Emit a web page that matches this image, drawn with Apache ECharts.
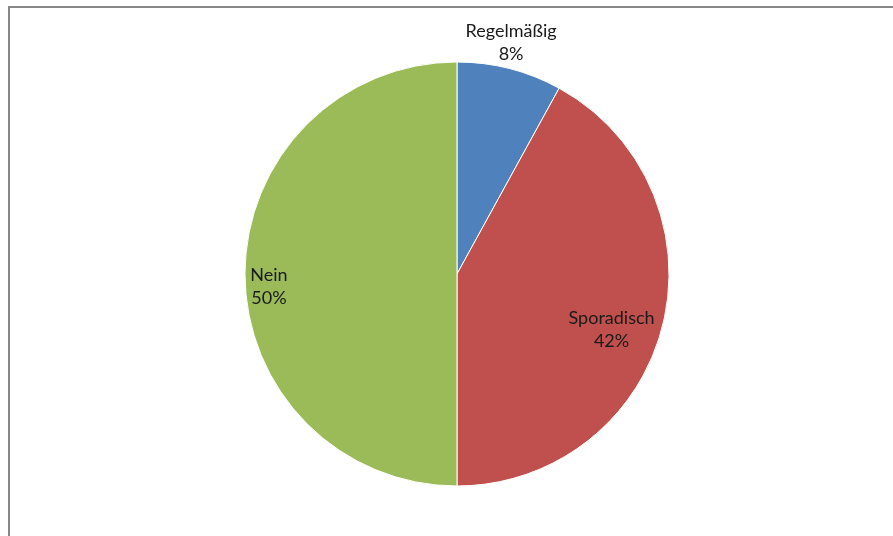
<!DOCTYPE html>
<html>
<head>
<meta charset="utf-8">
<script src="https://cdn.jsdelivr.net/npm/echarts@6/dist/echarts.min.js"></script>
<style>
  html, body { margin: 0; padding: 0; background: #fff; }
  #frame { position: absolute; left: 8px; top: 6px; width: 900px; height: 540px;
           border-left: 2px solid #878787; border-top: 2px solid #878787; box-sizing: border-box; }
  #chart { position: absolute; left: 0; top: 0; width: 893px; height: 536px; }
</style>
</head>
<body>
<div id="frame"></div>
<div id="chart"></div>
<script>
// Answer categories and their shares in percent
const categories = ['Regelmäßig', 'Sporadisch', 'Nein'];
const shares = [8, 42, 50];
const colors = ['#4F81BD', '#C0504D', '#9BBB59'];
// Label nudges from the default inside spot, per slice
const labelShift = [[27, -126], [49, 29], [-79, 13]];

const chart = echarts.init(document.getElementById('chart'), null, { renderer: 'canvas' });
chart.setOption({
  animation: false,
  series: [{
    type: 'pie',
    center: [457, 274],
    radius: [0, 212],
    startAngle: 90,
    clockwise: true,
    data: categories.map((name, i) => ({
      name, value: shares[i],
      itemStyle: { color: colors[i] }
    })),
    itemStyle: { borderColor: '#ffffff', borderWidth: 1 },
    label: {
      show: true,
      position: 'inside',
      formatter: p => p.name + '\n' + p.value + '%',
      fontFamily: 'Lato, "Open Sans", sans-serif',
      fontSize: 18,
      lineHeight: 23,
      color: '#1a1a1a',
      align: 'center'
    },
    labelLine: { show: false },
    labelLayout: params => ({
      dx: labelShift[params.dataIndex][0],
      dy: labelShift[params.dataIndex][1]
    }),
    emphasis: { disabled: true }
  }]
});
</script>
</body>
</html>
